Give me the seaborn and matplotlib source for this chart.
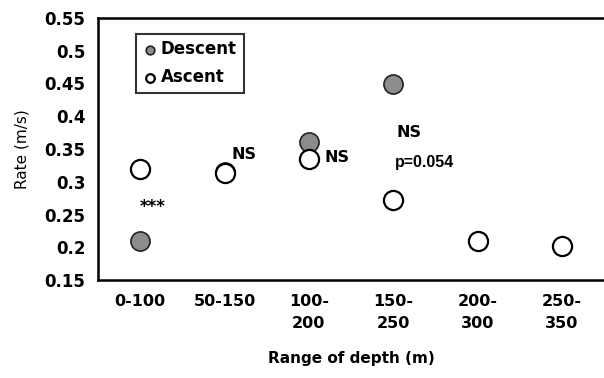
import matplotlib
matplotlib.use("Agg")
import matplotlib.pyplot as plt
import seaborn as sns
import pandas as pd

# Swimming rate per depth range
depth_ranges = ["0-100", "50-150", "100-\n200", "150-\n250", "200-\n300", "250-\n350"]
descent_rate = [0.21, 0.315, 0.36, 0.45, None, None]
ascent_rate = [0.32, 0.313, 0.335, 0.272, 0.21, 0.202]

rows = []
for i, cat in enumerate(depth_ranges):
    if descent_rate[i] is not None:
        rows.append({"range": cat, "rate": descent_rate[i], "phase": "Descent"})
    rows.append({"range": cat, "rate": ascent_rate[i], "phase": "Ascent"})
df = pd.DataFrame(rows)

sns.set_style("white")
plt.rcParams["font.family"] = ["DejaVu Sans"]
plt.rcParams.update({"text.color": "black", "axes.labelcolor": "black",
                     "xtick.color": "black", "ytick.color": "black"})

fig = plt.figure(figsize=(6.04, 3.78), dpi=100)
ax = fig.add_axes([98 / 604, 1 - 280 / 378, 1 - 98 / 604, 262 / 378])

order = depth_ranges
desc = df[df.phase == "Descent"]
asc = df[df.phase == "Ascent"]
sns.scatterplot(data=asc, x="range", y="rate", ax=ax, s=190, color="white",
                edgecolor="black", linewidth=1.6, zorder=3, label="Ascent")
sns.scatterplot(data=desc, x="range", y="rate", ax=ax, s=190, color="#8c8c8c",
                edgecolor="#222222", linewidth=1.2, zorder=2, label="Descent")
ax.set_xticks(range(len(order)))
ax.set_xticklabels(order)

ax.set_xlim(-0.5, 5.5)
ax.set_ylim(0.15, 0.55)
ax.set_yticks([0.15, 0.2, 0.25, 0.3, 0.35, 0.4, 0.45, 0.5, 0.55])
ax.set_yticklabels(["0.15", "0.2", "0.25", "0.3", "0.35", "0.4", "0.45", "0.5", "0.55"])
for s in ["left", "bottom", "top"]:
    ax.spines[s].set_visible(True)
    ax.spines[s].set_color("black")
    ax.spines[s].set_linewidth(1.8)
ax.spines["right"].set_visible(False)
ax.tick_params(axis="y", direction="in", length=4, width=1.5, labelsize=12, pad=9,
               colors="black")
ax.tick_params(axis="x", length=0, labelsize=11.5, pad=10, colors="black")
for t in ax.get_yticklabels() + ax.get_xticklabels():
    t.set_fontweight("bold")
for t in ax.get_xticklabels():
    t.set_linespacing(1.6)

ax.set_xlabel("Range of depth (m)", fontsize=11, fontweight="bold", labelpad=14,
              color="black")
ax.set_ylabel("Rate (m/s)", fontsize=11, labelpad=11, color="black")

# Significance annotations
ax.text(0.15, 0.262, "***", fontsize=12, fontweight="bold", ha="center", va="center")
ax.text(1.08, 0.341, "NS", fontsize=11.5, fontweight="bold", ha="left", va="center")
ax.text(2.19, 0.337, "NS", fontsize=11.5, fontweight="bold", ha="left", va="center")
ax.text(3.04, 0.375, "NS", fontsize=11.5, fontweight="bold", ha="left", va="center")
ax.text(3.02, 0.33, "p=0.054", fontsize=11.5, fontweight="bold", ha="left", va="center",
        family=["Liberation Sans Narrow", "Liberation Sans", "DejaVu Sans"])

handles, labels = ax.get_legend_handles_labels()
leg = ax.legend(handles[::-1], labels[::-1], loc="upper left",
                bbox_to_anchor=(0.075, 0.94), frameon=True, fancybox=False,
                edgecolor="black", fontsize=12, markerscale=0.45,
                handletextpad=0.2, borderpad=0.4, labelspacing=0.6,
                handlelength=0.9, borderaxespad=0)
leg.get_frame().set_linewidth(1.5)
for t in leg.get_texts():
    t.set_fontweight("bold")
    t.set_color("black")

fig.savefig("out.png", dpi=100)
